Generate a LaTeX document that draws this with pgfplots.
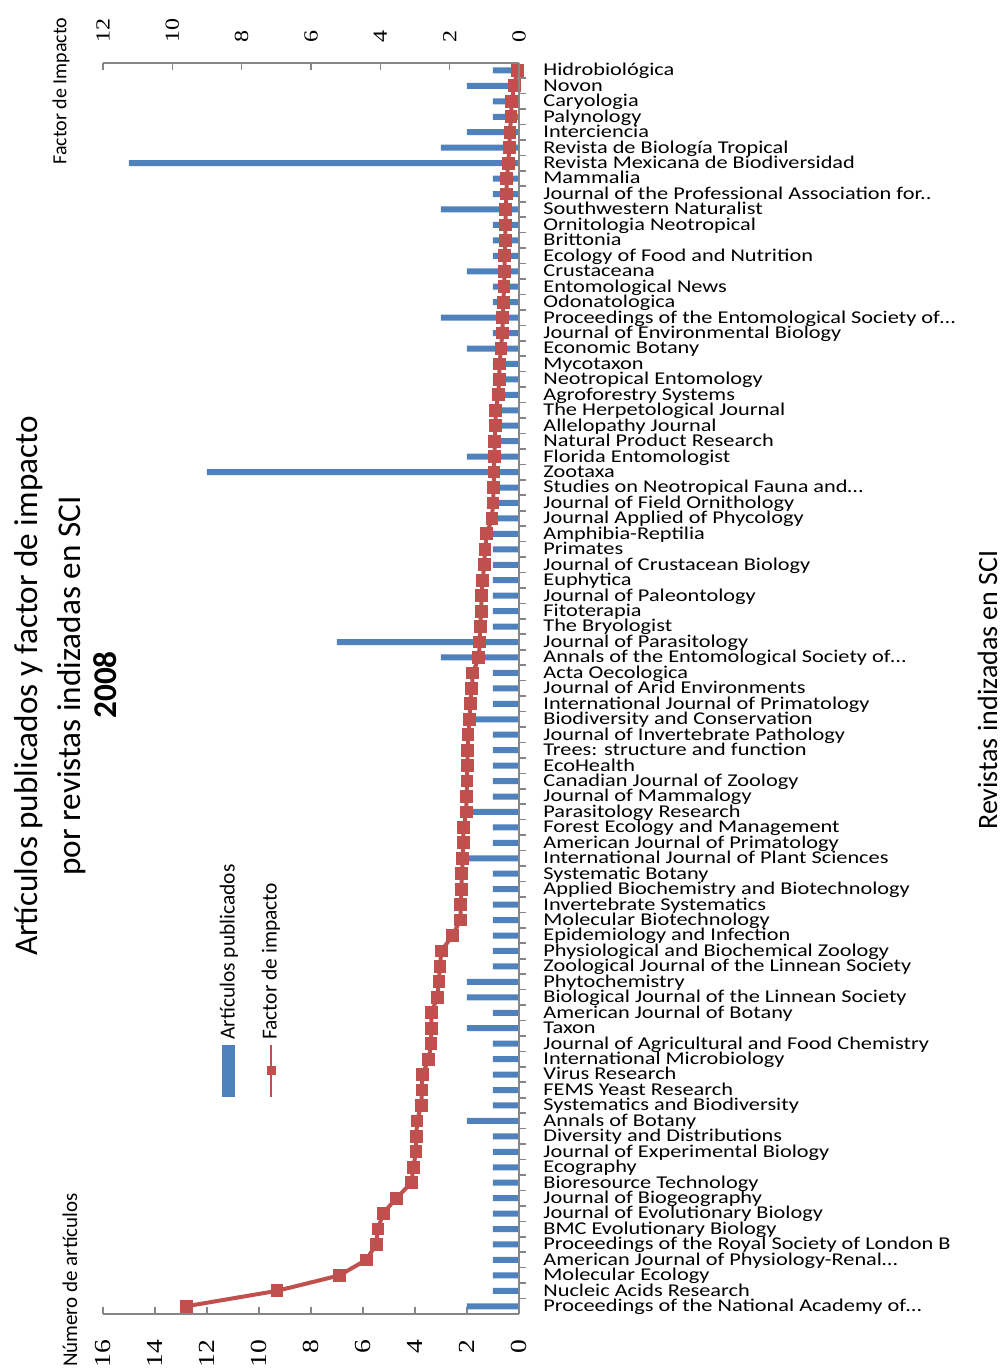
\documentclass[border=0pt]{standalone}
\usepackage{fontspec}
\usepackage{pgfplots}
\usepackage{pgfplotstable}
\pgfplotsset{compat=1.18}
\setmainfont{Carlito}
\newfontfamily\lab[FakeStretch=1.24]{Carlito}
\newfontfamily\tnr[FakeStretch=1.2]{Liberation Serif}
\definecolor{barblue}{RGB}{79,129,189}
\definecolor{linered}{RGB}{192,80,77}
\definecolor{axgray}{RGB}{134,134,134}

% i = posicion de la revista, n = articulos, f = factor de impacto
\pgfplotstableread{
i n f
0 1 0.05
1 2 0.14
2 1 0.21
3 1 0.23
4 2 0.26
5 3 0.28
6 15 0.31
7 1 0.35
8 1 0.36
9 3 0.38
10 1 0.39
11 1 0.40
12 1 0.41
13 2 0.42
14 1 0.43
15 1 0.45
16 3 0.47
17 1 0.48
18 2 0.52
19 1 0.56
20 1 0.57
21 1 0.60
22 1 0.67
23 1 0.68
24 1 0.70
25 2 0.71
26 12 0.72
27 1 0.73
28 1 0.75
29 1 0.78
30 1 0.93
31 1 0.98
32 1 1.00
33 1 1.05
34 1 1.08
35 1 1.09
36 1 1.12
37 7 1.13
38 3 1.16
39 1 1.33
40 1 1.36
41 1 1.41
42 2 1.42
43 1 1.47
44 1 1.48
45 1 1.49
46 1 1.50
47 1 1.51
48 2 1.52
49 1 1.60
50 1 1.61
51 2 1.62
52 1 1.65
53 1 1.66
54 1 1.68
55 1 1.69
56 1 1.92
57 1 2.24
58 1 2.28
59 2 2.31
60 2 2.36
61 1 2.52
62 2 2.53
63 1 2.54
64 1 2.60
65 1 2.79
66 1 2.80
67 1 2.82
68 2 2.94
69 1 2.96
70 1 2.97
71 1 3.05
72 1 3.10
73 1 3.54
74 1 3.92
75 1 4.07
76 1 4.12
77 1 4.41
78 1 5.18
79 1 6.98
80 2 9.60
}\revistas

\pgfplotsset{
  base/.style={
    scale only axis, width=208pt, height=625.65pt,
    at={(51.5pt,28pt)}, anchor=south west,
    ymin=-0.5, ymax=80.5, y dir=reverse,
    axis line style={axgray, line width=0.8pt},
    tick style={axgray, line width=0.8pt},
    /pgf/number format/assume math mode=true,
  },
}

\begin{document}
\begin{tikzpicture}
\useasboundingbox (0,0) rectangle (501.5pt,685pt);

% barras: numero de articulos
\begin{axis}[base,
    xmin=0, xmax=16, x dir=reverse,
    axis x line*=bottom, axis y line=none,
    xtick={0,2,...,16}, ytick=\empty,
    tick align=inside, major tick length=3.5pt,
    xticklabel style={font=\tnr\fontsize{11.5}{11.5}\selectfont, rotate=90, anchor=east, inner xsep=12.5pt},
    xbar, bar width=3pt]
\addplot[fill=barblue, draw=none] table[x=n, y=i] {\revistas};
\end{axis}

% linea: factor de impacto
\begin{axis}[base,
    xmin=0, xmax=12, x dir=reverse,
    axis x line*=top, axis y line=none,
    xtick={0,2,...,12}, ytick=\empty,
    tick align=inside, major tick length=3.5pt,
    xticklabel style={font=\tnr\fontsize{10}{10}\selectfont, rotate=90, anchor=west, inner xsep=10pt}]
\addplot[linered, line width=2pt, mark=square*, mark size=2.2pt, mark options={fill=linered}] table[x=f, y=i] {\revistas};
\end{axis}

% revistas
\begin{axis}[base,
    xmin=0, xmax=1,
    axis x line=none, axis y line*=right,
    ytick={0,...,80},
    yticklabels={{Hidrobiológica},{Novon},{Caryologia},{Palynology},{Interciencia},{Revista de Biología Tropical},{Revista Mexicana de Biodiversidad},{Mammalia},{Journal of the Professional Association for.\kern0pt.},{Southwestern Naturalist},{Ornitologia Neotropical},{Brittonia},{Ecology of Food and Nutrition},{Crustaceana},{Entomological News},{Odonatologica},{Proceedings of the Entomological Society of\ldots},{Journal of Environmental Biology},{Economic Botany},{Mycotaxon},{Neotropical Entomology},{Agroforestry Systems},{The Herpetological Journal},{Allelopathy Journal},{Natural Product Research},{Florida Entomologist},{Zootaxa},{Studies on Neotropical Fauna and\ldots},{Journal of Field Ornithology},{Journal Applied of Phycology},{Amphibia-Reptilia},{Primates},{Journal of Crustacean Biology},{Euphytica},{Journal of Paleontology},{Fitoterapia},{The Bryologist},{Journal of Parasitology},{Annals of the Entomological Society of\ldots},{Acta Oecologica},{Journal of Arid Environments},{International Journal of Primatology},{Biodiversity and Conservation},{Journal of Invertebrate Pathology},{Trees: structure and function},{EcoHealth},{Canadian Journal of Zoology},{Journal of Mammalogy},{Parasitology Research},{Forest Ecology and Management},{American Journal of Primatology},{International Journal of Plant Sciences},{Systematic Botany},{Applied Biochemistry and Biotechnology},{Invertebrate Systematics},{Molecular Biotechnology},{Epidemiology and Infection},{Physiological and Biochemical Zoology},{Zoological Journal of the Linnean Society},{Phytochemistry},{Biological Journal of the Linnean Society},{American Journal of Botany},{Taxon},{Journal of Agricultural and Food Chemistry},{International Microbiology},{Virus Research},{FEMS Yeast Research},{Systematics and Biodiversity},{Annals of Botany},{Diversity and Distributions},{Journal of Experimental Biology},{Ecography},{Bioresource Technology},{Journal of Biogeography},{Journal of Evolutionary Biology},{BMC Evolutionary Biology},{Proceedings of the Royal Society of London B},{American Journal of Physiology-Renal\ldots},{Molecular Ecology},{Nucleic Acids Research},{Proceedings of the National Academy of\ldots}},
    major tick length=0pt,
    minor ytick={0.5,1.5,...,79.5}, minor tick length=3.5pt,
    tick align=outside,
    yticklabel style={font=\lab\fontsize{9}{9}\selectfont, anchor=base west, inner xsep=0pt, xshift=12pt, yshift=-2.7pt}]
\end{axis}

% leyenda (girada)
\fill[barblue] (111pt,136.5pt) rectangle (117.5pt,162.5pt);
\draw[linered, line width=1pt] (135.5pt,136.5pt) -- (135.5pt,162.5pt);
\fill[linered] (133.25pt,147.25pt) rectangle (137.75pt,151.75pt);
\node[rotate=90, anchor=west, inner sep=0pt, font=\fontsize{10.7}{12}\selectfont] at (114.5pt,165pt) {Artículos publicados};
\node[rotate=90, anchor=west, inner sep=0pt, font=\fontsize{10.7}{12}\selectfont] at (135.5pt,165pt) {Factor de impacto};

% titulos
\node[rotate=90, font=\fontsize{16.6}{18}\selectfont] at (14.5pt,342pt) {Artículos publicados y factor de impacto};
\node[rotate=90, font=\fontsize{16.6}{18}\selectfont] at (36pt,342pt) {por revistas indizadas en SCI};
\node[rotate=90, font=\bfseries\fontsize{16.6}{18}\selectfont] at (52.5pt,342.5pt) {2008};
\node[rotate=90, anchor=base, font=\fontsize{14}{16}\selectfont] at (498.5pt,340pt) {Revistas indizadas en SCI};
\node[rotate=90, font=\fontsize{10}{12}\selectfont] at (30.5pt,639.5pt) {Factor de Impacto};
\node[rotate=90, font=\fontsize{10.5}{12}\selectfont] at (35pt,45pt) {Número de artículos};
\end{tikzpicture}
\end{document}
